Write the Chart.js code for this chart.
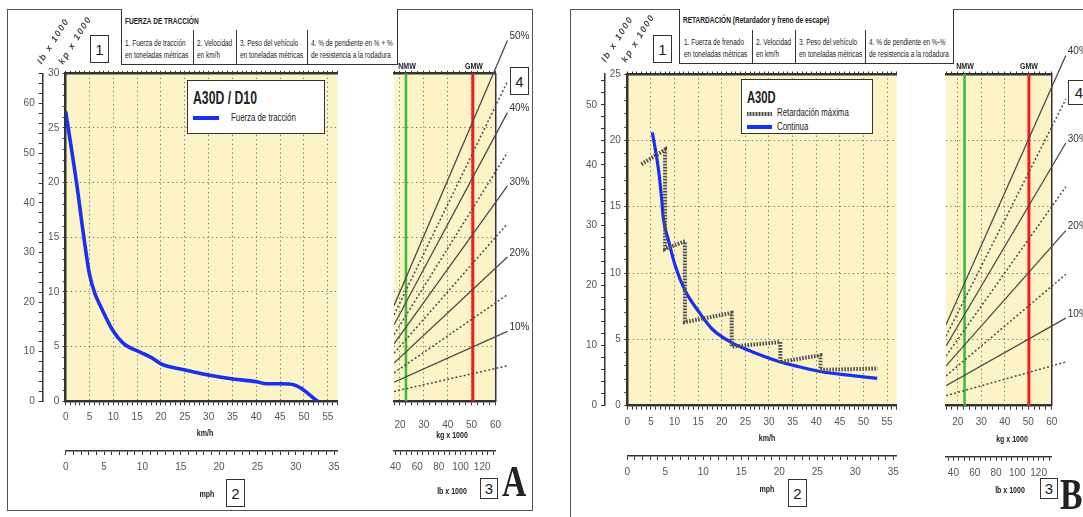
<!DOCTYPE html>
<html lang="es">
<head>
<meta charset="utf-8">
<title>A30D - Fuerza de tracción / Retardación</title>
<script src="https://cdn.jsdelivr.net/npm/chart.js@4.4.1/dist/chart.umd.min.js"></script>
<style>
  html, body { margin: 0; padding: 0; background: #fff; }
  body {
    position: relative; width: 1083px; height: 517px; overflow: hidden; color: #222;
    font-family: "Liberation Sans", Arial, sans-serif;
  }
  canvas { position: absolute; top: 0; }
  .frame { position: absolute; box-sizing: border-box; border: 1.5px solid #555; }
  .head { position: absolute; box-sizing: border-box; border: 1.5px solid #333; border-top: none; background: #fff; }
  .sep { position: absolute; width: 0; border-left: 1.5px solid #333; }
  .ttl { position: absolute; font-size: 9.5px; font-weight: bold; white-space: nowrap; transform: scaleX(0.69); transform-origin: left top; }
  .col { position: absolute; font-size: 8.5px; line-height: 12px; white-space: nowrap; transform: scaleX(0.76); transform-origin: left top; }
  .t { position: absolute; transform: translate(-50%, -50%) scaleX(0.74); white-space: nowrap; font-size: 9.5px; font-weight: bold; }
  .rot { position: absolute; transform: translate(-50%, -50%) rotate(-58deg); white-space: nowrap;
         font-size: 9px; font-style: italic; font-weight: bold; letter-spacing: 1.6px; color: #444; }
  .box { position: absolute; box-sizing: border-box; border: 1.5px solid #333; background: #fff;
         display: flex; align-items: center; justify-content: center; font-size: 15px; }
  .big { position: absolute; font: bold 45px "Liberation Serif", "DejaVu Serif", serif; line-height: 1;
         transform: scaleX(0.75); transform-origin: left top; }
  .legend { position: absolute; box-sizing: border-box; border: 1.5px solid #333; background: #fff; }
  .legend .name { position: absolute; left: 5px; font-weight: bold; white-space: nowrap; transform: translateY(-50%) scaleX(0.68); transform-origin: left center; }
  .legend .txt { position: absolute; font-size: 10.5px; white-space: nowrap; transform: translateY(-50%) scaleX(0.745); transform-origin: left center; }
  .legend .blue { position: absolute; left: 5px; width: 26px; height: 3.5px; background: #1830f2; }
  .legend .dots { position: absolute; left: 5px; width: 25px; height: 3.5px;
                  background: repeating-linear-gradient(90deg, #444 0 1.5px, #aaa 1.5px 3px); }
</style>
</head>
<body>
  <!-- frames and headers -->
  <div class="frame" style="left:7px;top:9px;width:526px;height:502px"></div>
  <div class="frame" style="left:570px;top:9px;width:600px;height:600px;border-right:none;border-bottom:none"></div>

  <div class="head" style="left:121px;top:9px;width:277px;height:56px"></div>
  <div class="sep" style="left:193px;top:30px;height:35px"></div>
  <div class="sep" style="left:236px;top:30px;height:35px"></div>
  <div class="sep" style="left:307px;top:30px;height:35px"></div>
  <div class="ttl" style="left:125px;top:15px">FUERZA DE TRACCIÓN</div>
  <div class="col" style="left:125px;top:37px">1. Fuerza de tracción<br>en toneladas métricas</div>
  <div class="col" style="left:197px;top:37px">2. Velocidad<br>en km/h</div>
  <div class="col" style="left:240px;top:37px">3. Peso del vehículo<br>en toneladas métricas</div>
  <div class="col" style="left:311px;top:37px">4. % de pendiente en % + %<br>de resistencia a la rodadura</div>

  <div class="head" style="left:679px;top:9px;width:275px;height:55px"></div>
  <div class="sep" style="left:752px;top:30px;height:34px"></div>
  <div class="sep" style="left:795px;top:30px;height:34px"></div>
  <div class="sep" style="left:865px;top:30px;height:34px"></div>
  <div class="ttl" style="left:683px;top:14px">RETARDACIÓN (Retardador y freno de escape)</div>
  <div class="col" style="left:684px;top:36px">1. Fuerza de frenado<br>en toneladas métricas</div>
  <div class="col" style="left:756px;top:36px">2. Velocidad<br>en km/h</div>
  <div class="col" style="left:799px;top:36px">3. Peso del vehículo<br>en toneladas métricas</div>
  <div class="col" style="left:869px;top:36px">4. % de pendiente en %-%<br>de resistencia a la rodadura</div>

  <canvas id="mainA" width="350" height="517" style="left:0px"></canvas>
  <canvas id="gradeA" width="190" height="517" style="left:350px"></canvas>
  <canvas id="mainB" width="345" height="517" style="left:560px"></canvas>
  <canvas id="gradeB" width="183" height="517" style="left:900px"></canvas>

  <!-- panel A labels -->
  <div class="rot" style="left:53px;top:41px">lb x 1000</div>
  <div class="rot" style="left:75px;top:40px">kp x 1000</div>
  <div class="box" style="left:90px;top:35px;width:19px;height:28px">1</div>
  <div class="legend" style="left:187px;top:80px;width:138px;height:54px">
    <div class="name" style="top:17px;font-size:18px">A30D / D10</div>
    <div class="blue" style="top:35px"></div>
    <div class="txt" style="left:43px;top:36px">Fuerza de tracción</div>
  </div>
  <div class="t" style="left:205px;top:432px">km/h</div>
  <div class="t" style="left:207px;top:493px">mph</div>
  <div class="box" style="left:226px;top:479px;width:19px;height:28px">2</div>
  <div class="t" style="left:407px;top:65px">NMW</div>
  <div class="t" style="left:474px;top:65px">GMW</div>
  <div class="box" style="left:510px;top:67px;width:19px;height:28px">4</div>
  <div class="t" style="left:452px;top:434px">kg x 1000</div>
  <div class="t" style="left:452px;top:490px">lb x 1000</div>
  <div class="box" style="left:480px;top:478px;width:18px;height:21px">3</div>
  <div class="big" style="left:502px;top:459px">A</div>

  <!-- panel B labels -->
  <div class="rot" style="left:617px;top:39px">lb x 1000</div>
  <div class="rot" style="left:638px;top:38px">kp x 1000</div>
  <div class="box" style="left:653px;top:35px;width:19px;height:28px">1</div>
  <div class="legend" style="left:741px;top:79px;width:132px;height:55px">
    <div class="name" style="top:17px;font-size:16.5px">A30D</div>
    <div class="dots" style="top:32px"></div>
    <div class="txt" style="left:35px;top:32px">Retardación máxima</div>
    <div class="blue" style="top:45px;width:25px"></div>
    <div class="txt" style="left:35px;top:46px">Continua</div>
  </div>
  <div class="t" style="left:767px;top:437px">km/h</div>
  <div class="t" style="left:767px;top:488px">mph</div>
  <div class="box" style="left:788px;top:479px;width:19px;height:28px">2</div>
  <div class="t" style="left:965px;top:65px">NMW</div>
  <div class="t" style="left:1029px;top:65px">GMW</div>
  <div class="box" style="left:1068px;top:80px;width:22px;height:25px">4</div>
  <div class="t" style="left:1012px;top:438px">kg x 1000</div>
  <div class="t" style="left:1010px;top:489px">lb x 1000</div>
  <div class="box" style="left:1040px;top:478px;width:18px;height:21px">3</div>
  <div class="big" style="left:1060px;top:472px">B</div>

<script>
// A: fuerza de tracción (km/h -> toneladas)
const tractionSpeed = [0, 2.4, 3.4, 4, 4.95, 6.1, 7.2, 10, 12.1, 15.6, 18, 20.1, 24.6, 28.8, 35.1, 40, 42.1, 45.2, 48, 52.9];
const tractionForce = [26.5, 19.6, 16.3, 14.4, 11.7, 9.9, 8.8, 6.4, 5.3, 4.5, 4.0, 3.4, 2.9, 2.5, 2.04, 1.8, 1.6, 1.6, 1.5, 0];

// B: retardación máxima (escalones) y continua
const retardMaxSpeed = [3, 8, 8, 12.2, 12.2, 22.1, 22.1, 32.4, 32.4, 40.9, 40.9, 53];
const retardMaxForce = [18.2, 19.3, 11.8, 12.4, 6.3, 7.0, 4.45, 4.8, 3.3, 3.8, 2.7, 2.8];
const continuousSpeed = [5.3, 6.6, 7.3, 7.6, 8.7, 10.1, 12.2, 15.1, 17.9, 22.1, 26.4, 32.4, 36.3, 40.5, 46.9, 52.9];
const continuousForce = [20.6, 17.8, 15.5, 14.2, 12.5, 10.6, 8.7, 7.1, 5.8, 4.75, 4.07, 3.3, 2.94, 2.6, 2.3, 2.06];

// grade lines: force read at the left edge and at the far end of each line
const gradesA = [5, 10, 15, 20, 25, 30, 35, 40, 45, 50];
const gradeAWeights = [17.5, 65];
const gradeAStart = [0.9, 1.75, 2.6, 3.5, 4.4, 5.25, 6.1, 7.0, 7.9, 8.75];
const gradeAEnd = [3.25, 6.4, 9.75, 13.2, 16.25, 19.7, 22.75, 26.4, 29.25, 33.0];
const gradesB = [5, 10, 15, 20, 25, 30, 35, 40];
const gradeBWeights = [15, 66];
const gradeBStart = [0.75, 1.5, 2.25, 3.0, 3.75, 4.5, 5.25, 6.1];
const gradeBEnd = [3.3, 6.6, 9.9, 13.2, 16.5, 19.8, 23.1, 26.4];

// NMW / GMW (t)
const weightMarksA = [22.5, 50.5];
const weightMarksB = [22.9, 50.3];

const MPH = 1.609344;
const LB = 2.2046;
const FONT = "'Liberation Sans', Arial, sans-serif";
const INK = '#333';
const GRID = 'rgba(80,80,60,0.8)';
const PAPER = '#fcf3c6';
const BLUE = '#1830f2';

const near = (v, m) => Math.abs(v / m - Math.round(v / m)) < 1e-6;
const pairs = (xs, ys) => xs.map((x, i) => ({ x, y: ys[i] }));

function axis({ position, weight = 0, min, max, step, every = 0, grid = 0, size, tick = 4, pad = 3, border = 1.5, labels = true }) {
  return {
    type: 'linear', position, weight, min, max,
    afterFit: (s) => { if (s.isHorizontal()) s.height = size; else s.width = size; },
    ticks: {
      display: labels, stepSize: step, autoSkip: false, includeBounds: false, maxRotation: 0, padding: pad,
      color: '#555', font: { family: FONT, size: 10 },
      callback: (v) => (every && near(v, every) ? String(Math.round(v)) : '')
    },
    grid: {
      drawOnChartArea: grid > 0, drawTicks: tick > 0, tickLength: tick, tickColor: INK, tickWidth: 1, lineWidth: 1,
      color: (c) => (grid && c.tick && near(c.tick.value, grid) && c.tick.value > min && c.tick.value < max ? GRID : 'transparent')
    },
    border: { display: true, color: INK, width: border, dash: [1.2, 3.2] }
  };
}

const paper = {
  id: 'paper',
  beforeDraw(chart) {
    const { ctx, chartArea: a } = chart;
    ctx.save();
    ctx.fillStyle = PAPER;
    ctx.fillRect(a.left, a.top, a.width, a.height);
    ctx.restore();
  }
};

const gradeTags = {
  id: 'gradeTags',
  afterDatasetsDraw(chart) {
    const { ctx } = chart;
    ctx.save();
    ctx.font = `10px ${FONT}`;
    ctx.fillStyle = '#333';
    ctx.textBaseline = 'middle';
    chart.data.datasets.forEach((ds, i) => {
      if (!ds.tag) return;
      const pts = chart.getDatasetMeta(i).data;
      const end = pts[pts.length - 1];
      ctx.fillText(ds.tag, end.x + 2, end.y - 4);
    });
    ctx.restore();
  }
};

const common = {
  responsive: false,
  animation: false,
  events: [],
  plugins: { legend: { display: false }, tooltip: { enabled: false } },
  elements: { point: { radius: 0 } }
};

function mainChart(id, datasets, o) {
  return new Chart(document.getElementById(id), {
    type: 'scatter',
    data: { datasets },
    options: {
      ...common,
      layout: { padding: o.padding },
      scales: {
        x: axis({ position: 'bottom', min: 0, max: 57, step: 1, every: 5, grid: 5, size: o.xSize, pad: o.xPad, border: 2.5 }),
        x2: axis({ position: 'bottom', weight: 1, min: 0, max: 57 / MPH, step: 1, every: 5, size: o.x2Size, pad: o.x2Pad }),
        xTop: axis({ position: 'top', min: 0, max: 57, step: 1, size: 3.3, tick: 2.5, border: 2.5, labels: false }),
        y: axis({ position: 'left', min: 0, max: o.fMax, step: 1, every: 5, grid: 5, size: o.ySize, tick: 3, pad: 3.5, border: 2.5 }),
        y2: axis({ position: 'left', weight: 1, min: 0, max: o.fMax * LB, step: 2, every: 10, size: o.y2Size, pad: 4 })
      }
    },
    plugins: [paper]
  });
}

function gradeChart(id, o) {
  const lines = o.grades.map((g, i) => ({
    data: [{ x: o.weights[0], y: o.start[i] }, { x: o.weights[1], y: o.end[i] }],
    showLine: true,
    borderColor: '#4a4a4a',
    borderWidth: g % 10 === 0 ? 1.3 : 1.5,
    borderDash: g % 10 === 0 ? [] : [2, 2.2],
    tag: g % 10 === 0 ? g + '%' : null,
    clip: { left: 0, top: false, right: false, bottom: 0 }
  }));
  const marks = o.marks.map((w, i) => ({
    data: [{ x: w, y: 0 }, { x: w, y: o.fMax }],
    showLine: true,
    borderColor: i === 0 ? '#3fba3f' : '#f41c1c',
    borderWidth: i === 0 ? 2.6 : 3
  }));
  return new Chart(document.getElementById(id), {
    type: 'scatter',
    data: { datasets: [...lines, ...marks] },
    options: {
      ...common,
      layout: { padding: o.padding },
      scales: {
        x: axis({ position: 'bottom', min: o.kgMin, max: 60, step: 2.5, every: 10, grid: 10, size: o.xSize, pad: o.xPad, border: 2.5 }),
        x2: axis({ position: 'bottom', weight: 1, min: o.kgMin * LB, max: 60 * LB, step: 5, every: 20, size: o.x2Size, pad: o.x2Pad }),
        xTop: axis({ position: 'top', min: o.kgMin, max: 60, step: 2.5, size: 3.3, tick: 2.5, border: 2.5, labels: false }),
        y: axis({ position: 'right', min: 0, max: o.fMax, step: 5, grid: 5, size: 1, tick: 0, border: 1.5, labels: false })
      }
    },
    plugins: [paper, gradeTags]
  });
}

mainChart('mainA', [
  { data: pairs(tractionSpeed, tractionForce), showLine: true, borderColor: BLUE, borderWidth: 3.6, cubicInterpolationMode: 'monotone' }
], { padding: { left: 10, top: 70, right: 12.7, bottom: 20 }, fMax: 30, xSize: 49.7, x2Size: 46, xPad: 6, x2Pad: 6.5, ySize: 23, y2Size: 32.7 });

gradeChart('gradeA', {
  grades: gradesA, weights: gradeAWeights, start: gradeAStart, end: gradeAEnd, marks: weightMarksA,
  kgMin: 17.5, fMax: 30,
  padding: { left: 44, top: 70, right: 43.5, bottom: 20 }, xSize: 49.7, x2Size: 46, xPad: 13.5, x2Pad: 6.5
});

mainChart('mainB', [
  { data: pairs(retardMaxSpeed, retardMaxForce), showLine: true, borderColor: '#505050', borderWidth: 4, borderDash: [1.6, 1.4], tension: 0 },
  { data: pairs(continuousSpeed, continuousForce), showLine: true, borderColor: BLUE, borderWidth: 3.2, cubicInterpolationMode: 'monotone' }
], { padding: { left: 10, top: 70.7, right: 8.3, bottom: 21 }, fMax: 25, xSize: 50.3, x2Size: 40, xPad: 6.5, x2Pad: 6, ySize: 22.3, y2Size: 35 });

gradeChart('gradeB', {
  grades: gradesB, weights: gradeBWeights, start: gradeBStart, end: gradeBEnd, marks: weightMarksB,
  kgMin: 15, fMax: 25,
  padding: { left: 46, top: 70.7, right: 30.3, bottom: 21 }, xSize: 51, x2Size: 39.3, xPad: 6.5, x2Pad: 6.3
});
</script>
</body>
</html>
